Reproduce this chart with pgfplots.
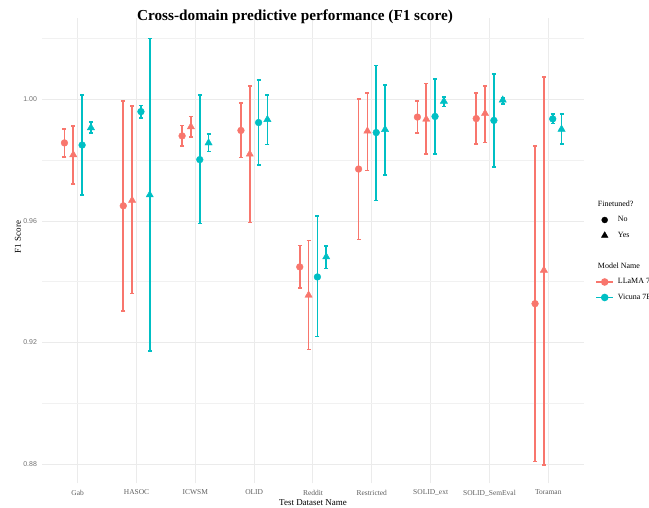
\documentclass[border=0pt]{standalone}
\usepackage{fontspec}
\setmainfont{Liberation Serif}
\newfontfamily\sansf{Liberation Sans}
\usepackage{pgfplots}
\usepackage{pgfplotstable}
\pgfplotsset{compat=1.18}
\definecolor{cred}{HTML}{F8766D}
\definecolor{cteal}{HTML}{00BFC4}
\definecolor{gridc}{HTML}{EBEBEB}
\definecolor{tickc}{HTML}{4D4D4D}

\pgfplotstableread{
i y lo hi
0 0.9857 0.9811 0.9902
1 0.9650 0.9304 0.9995
2 0.9880 0.9846 0.9914
3 0.9898 0.9809 0.9988
4 0.9449 0.9380 0.9519
5 0.9771 0.9539 1.0001
6 0.9942 0.9889 0.9995
7 0.9937 0.9853 1.0022
8 0.9328 0.8809 0.9847
}\llamano
\pgfplotstableread{
i y lo hi
0 0.9818 0.9721 0.9912
1 0.9668 0.9361 0.9979
2 0.9910 0.9876 0.9944
3 0.9820 0.9595 1.0044
4 0.9356 0.9177 0.9536
5 0.9896 0.9767 1.0022
6 0.9935 0.9820 1.0053
7 0.9954 0.9859 1.0045
8 0.9438 0.8797 1.0074
}\llamayes
\pgfplotstableread{
i y lo hi
0 0.9850 0.9686 1.0015
1 0.9960 0.9939 0.9980
2 0.9802 0.9592 1.0015
3 0.9924 0.9784 1.0064
4 0.9416 0.9220 0.9616
5 0.9891 0.9668 1.0111
6 0.9944 0.9820 1.0067
7 0.9931 0.9778 1.0084
8 0.9936 0.9921 0.9952
}\vicunano
\pgfplotstableread{
i y lo hi
0 0.9907 0.9890 0.9925
1 0.9686 0.9172 1.0200
2 0.9857 0.9828 0.9886
3 0.9934 0.9852 1.0014
4 0.9482 0.9444 0.9518
5 0.9901 0.9751 1.0048
6 0.9994 0.9976 1.0008
7 0.9998 0.9985 1.0005
8 0.9902 0.9853 0.9952
}\vicunayes

\begin{document}
\begin{tikzpicture}
\path[use as bounding box] (0,0) rectangle (649bp,508bp);
\begin{axis}[
  at={(42.4bp,24.7bp)}, anchor=south west,
  scale only axis, width=541.2bp, height=465bp,
  xmin=-0.6, xmax=8.6, ymin=0.8737, ymax=1.0267,
  xtick={0,...,8},
  xticklabels={Gab,HASOC,ICWSM,OLID,Reddit,Restricted,SOLID\_ext,SOLID\_SemEval,Toraman},
  ytick={0.88,0.92,0.96,1.00},
  minor ytick={0.90,0.94,0.98,1.02},
  yticklabel style={/pgf/number format/fixed, /pgf/number format/fixed zerofill, /pgf/number format/precision=2, /pgf/number format/assume math mode=true, font=\sansf\fontsize{7}{8}\selectfont, text=tickc!80, xshift=-2bp},
  xticklabel style={font=\fontsize{7.5}{8}\selectfont, text=tickc!90, yshift=-3bp},
  axis line style={draw=none},
  major tick length=0pt, minor tick length=0pt,
  xmajorgrids, ymajorgrids, yminorgrids,
  major grid style={draw=gridc, line width=1bp},
  minor grid style={draw=gridc!70, line width=0.6bp},
  clip=false,
  legend cell align=left,
  legend style={at={(rel axis cs:1.016,0.614)}, anchor=north west, draw=none, fill=none,
    font=\fontsize{8}{9}\selectfont, row sep=6.5bp,
    nodes={inner sep=1bp, text height=5.5bp, text depth=1.5bp}},
  ebar/.style={
    error bars/.cd, y dir=both, y explicit,
    error bar style={line width=1.6bp, #1},
    error mark options={line width=1.5bp, mark size=2bp, #1, rotate=90}},
]
\addplot[forget plot, only marks, mark=*, mark size=3.4bp, color=cred, ebar=cred]
  table[x expr=\thisrow{i}-0.225, y=y, y error plus expr=\thisrow{hi}-\thisrow{y}, y error minus expr=\thisrow{y}-\thisrow{lo}] {\llamano};
\addplot[forget plot, only marks, mark=triangle*, mark size=4.2bp, color=cred, ebar=cred]
  table[x expr=\thisrow{i}-0.075, y=y, y error plus expr=\thisrow{hi}-\thisrow{y}, y error minus expr=\thisrow{y}-\thisrow{lo}] {\llamayes};
\addplot[forget plot, only marks, mark=*, mark size=3.4bp, color=cteal, ebar=cteal]
  table[x expr=\thisrow{i}+0.075, y=y, y error plus expr=\thisrow{hi}-\thisrow{y}, y error minus expr=\thisrow{y}-\thisrow{lo}] {\vicunano};
\addplot[forget plot, only marks, mark=triangle*, mark size=4.2bp, color=cteal, ebar=cteal]
  table[x expr=\thisrow{i}+0.225, y=y, y error plus expr=\thisrow{hi}-\thisrow{y}, y error minus expr=\thisrow{y}-\thisrow{lo}] {\vicunayes};

\addlegendimage{empty legend}
\addlegendentry{\hspace*{-17bp}Finetuned?}
\addlegendimage{only marks, mark=*, mark size=3bp, black}
\addlegendentry{\hspace*{3bp}No}
\addlegendimage{only marks, mark=triangle*, mark size=3.8bp, black}
\addlegendentry{\hspace*{3bp}Yes}
\addlegendimage{empty legend}
\addlegendentry{}
\addlegendimage{empty legend}
\addlegendentry{\hspace*{-17bp}Model Name}
\addlegendimage{color=cred, line width=1.5bp, mark=*, mark size=3bp}
\addlegendentry{\hspace*{3bp}LLaMA 7B}
\addlegendimage{color=cteal, line width=1.5bp, mark=*, mark size=3bp}
\addlegendentry{\hspace*{3bp}Vicuna 7B}
\end{axis}
\node[font=\fontsize{9}{10}\selectfont, anchor=center] at (313bp,5.5bp) {Test Dataset Name};
\node[font=\fontsize{9}{10}\selectfont, rotate=90, anchor=center] at (18bp,271bp) {F1 Score};
\node[font=\bfseries\fontsize{15.3}{17}\selectfont, anchor=base] at (295bp,487bp) {Cross-domain predictive performance (F1 score)};
\end{tikzpicture}
\end{document}
